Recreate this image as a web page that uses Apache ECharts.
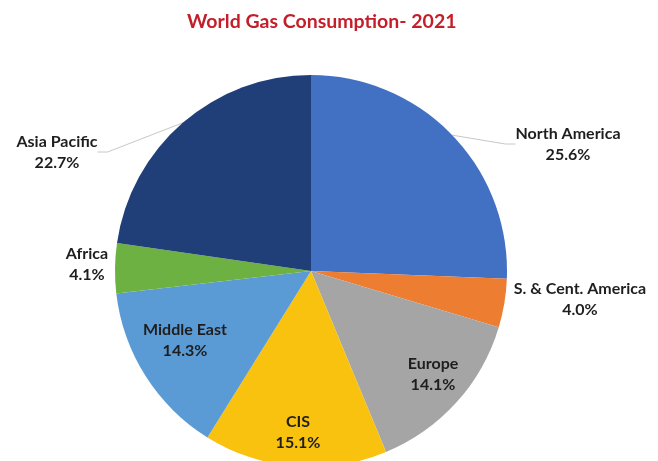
<!DOCTYPE html>
<html>
<head>
<meta charset="utf-8">
<script src="https://cdn.jsdelivr.net/npm/echarts@6/dist/echarts.min.js"></script>
<style>
html,body{margin:0;padding:0;background:#fff;}
#chart{width:658px;height:461px;}
</style>
</head>
<body>
<div id="chart"></div>
<script>
const categories = ["North America", "S. & Cent. America", "Europe", "CIS", "Middle East", "Africa", "Asia Pacific"];
const shares = [25.6, 4.0, 14.1, 15.1, 14.3, 4.1, 22.7];
const colors = ["#4270C2", "#ED7D31", "#A5A5A5", "#F8C20F", "#5B9BD5", "#6DB143", "#203F79"];
const labelPos = [[568, 144], [580, 299], [433, 374], [298, 432], [185, 340], [87, 264], [57, 152]];
const showLine = [true, false, false, false, false, false, true];

const chart = echarts.init(document.getElementById('chart'));
chart.setOption({
  backgroundColor: '#ffffff',
  animation: false,
  title: {
    text: 'World Gas Consumption- 2021',
    left: 182,
    top: 7,
    textStyle: { color: '#C41E2A', fontFamily: 'Lato', fontWeight: 'bold', fontSize: 19.5 }
  },
  series: [{
    type: 'pie',
    center: [311, 271],
    radius: 196,
    startAngle: 90,
    clockwise: true,
    avoidLabelOverlap: false,
    itemStyle: { borderWidth: 0 },
    label: {
      show: true,
      position: 'outside',
      formatter: p => p.name + '\n' + p.value.toFixed(1) + '%',
      color: '#1e1e1e',
      fontFamily: 'Lato',
      fontWeight: 'bold',
      fontSize: 16,
      lineHeight: 21,
      align: 'center'
    },
    labelLine: { show: true, length: 10, length2: 10, smooth: false, lineStyle: { color: '#C8C8C8', width: 1 } },
    labelLayout: function (params) {
      const i = params.dataIndex;
      return { x: labelPos[i][0], y: labelPos[i][1], align: 'center', verticalAlign: 'middle' };
    },
    data: categories.map((c, i) => ({
      name: c,
      value: shares[i],
      itemStyle: { color: colors[i] },
      labelLine: { show: showLine[i] }
    }))
  }]
});
</script>
</body>
</html>
